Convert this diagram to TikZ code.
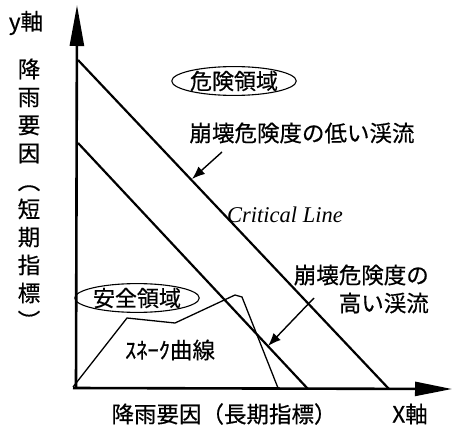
\documentclass[tikz,border=0pt]{standalone}
\usepackage{fontspec}
\newfontfamily\jp[FakeBold=0.5]{Noto Sans CJK JP}
\newfontfamily\tms{Liberation Serif}
\usetikzlibrary{arrows.meta,shapes.geometric}
\tikzset{
  axis/.style={line width=2.6pt},
  crit/.style={line width=2.2pt},
  snake/.style={line width=1.3pt, line join=miter},
  pointer/.style={line width=1.4pt, -{Latex[length=13pt,width=10pt]}},
  jlabel/.style={font=\jp\fontsize{22.5pt}{28pt}\selectfont, inner sep=0pt},
  region/.style={ellipse, draw, line width=1.1pt, inner sep=0pt, minimum width=108pt, minimum height=28pt, font=\jp\fontsize{22pt}{24pt}\selectfont}
}
\begin{document}
\begin{tikzpicture}[x=1pt,y=-1pt]
\useasboundingbox (0,0) rectangle (452,433);
% axes
\coordinate (O) at (76,388);
\coordinate (Ytip) at (77,5);
\coordinate (Xtip) at (452,389);
\draw[axis, -{Triangle[length=41pt,width=14pt]}] (O) -- (Ytip);
\draw[axis, -{Triangle[length=37pt,width=14pt]}] (73,388) -- (Xtip);
% diagonal lines
\coordinate (A1) at (78,60);
\coordinate (A2) at (389,389);
\coordinate (B1) at (78,143);
\coordinate (B2) at (308,389);
\draw[crit] (A1) -- (A2);
\draw[crit] (B1) -- (B2);
% snake curve
\coordinate (S0) at (73,387);
\coordinate (S1) at (127,318);
\coordinate (S2) at (175,323);
\coordinate (S3) at (235,295);
\coordinate (S4) at (242,297);
\coordinate (S5) at (278,388);
\draw[snake] (S0) -- (S1) -- (S2) -- (S3) -- (S4) -- (S5);
% labels
\node[jlabel] (yl) at (26,23) {y軸};
\node[jlabel, align=center] (yaxislabel) at (29,194) {降\\雨\\要\\因\\︵\\短\\期\\指\\標\\︶};
\node[region] (danger) at (234,81) {危険領域};
\node[region] (safe) at (137,298) {安全領域};
\node[jlabel] (low) at (302,133) {崩壊危険度の低い渓流};
\node[jlabel, align=right, anchor=east] (high) at (429,289) {崩壊危険度の\\高い渓流};
\node[font=\tms\itshape\fontsize{22.5pt}{24pt}\selectfont, inner sep=0pt] (cl) at (285,215) {Critical Line};
\node[jlabel] (snk) at (170,350) {ｽﾈｰｸ曲線};
\node[jlabel] (xaxislabel) at (224,414) {降雨要因（長期指標）};
\node[jlabel] (xl) at (410,414) {X軸};
% pointers
\coordinate (P1s) at (222,152);
\coordinate (P1e) at (192,179);
\coordinate (P2s) at (314,298);
\coordinate (P2e) at (268,346);
\draw[pointer] (P1s) -- (P1e);
\draw[pointer] (P2s) -- (P2e);
\end{tikzpicture}
\end{document}
